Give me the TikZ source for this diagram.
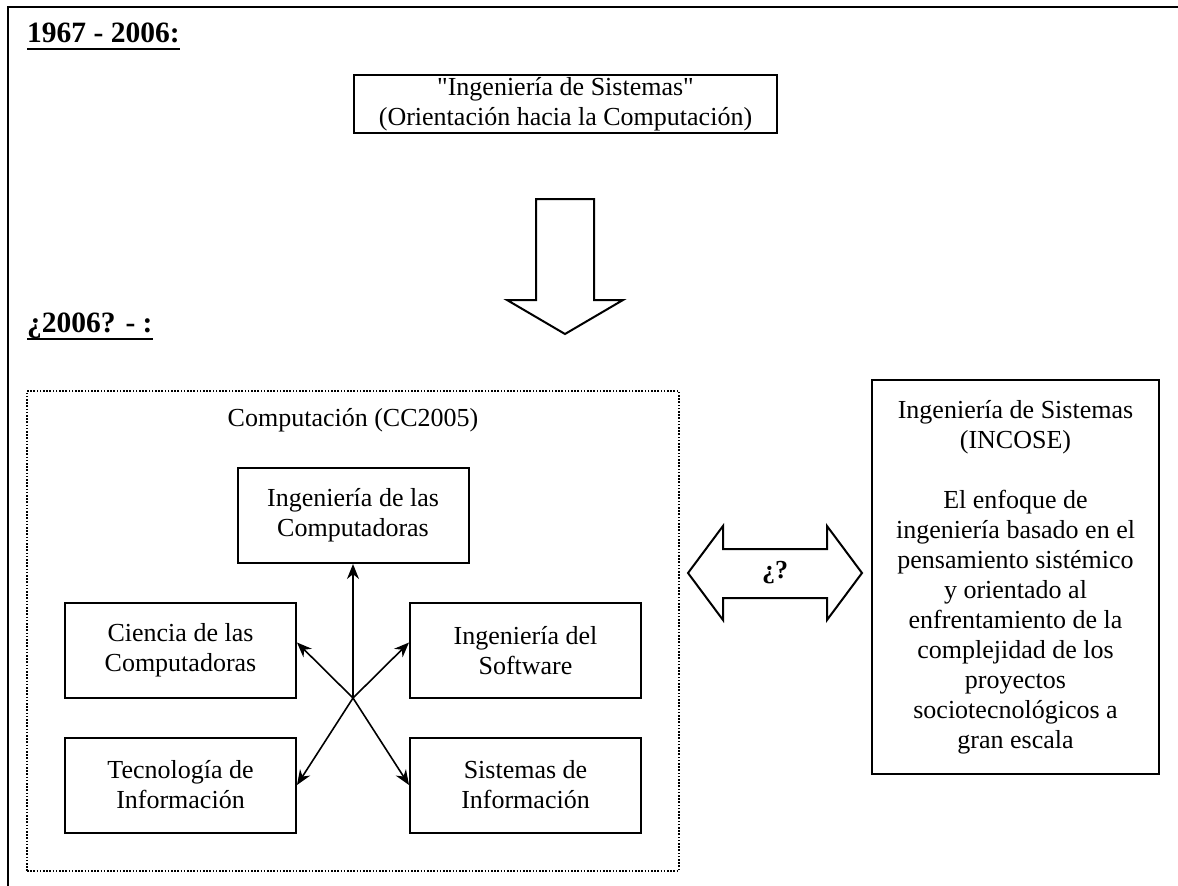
\documentclass[tikz,border=0pt]{standalone}
\usepackage{fontspec}
\setmainfont{Liberation Serif}
\usetikzlibrary{arrows.meta}
\newcommand{\ulined}[1]{\setbox0\hbox{#1}\rlap{\rule[-8pt]{\wd0}{2pt}}\box0}
\tikzstyle{block} = [align=center,draw=black,rectangle,text centered,line width=2pt,minimum width=231pt,minimum height=95pt,inner sep=0pt]
\tikzstyle{bigbox} = [block,minimum width=423pt,minimum height=58pt]
\tikzstyle{data} = [align=center,text centered,inner sep=0pt]
\tikzstyle{heading} = [anchor=base west,inner sep=0pt,font=\fontsize{29.5}{34}\selectfont\bfseries]
\tikzstyle{groupbox} = [draw=black,line width=1.6pt,dash pattern=on 1.6pt off 1.6pt,minimum width=652pt,minimum height=480pt]
\tikzstyle{bigarrow} = [draw=black,line width=2pt,fill=white,line join=miter]
\tikzstyle{link} = [-{Stealth[length=15pt,width=12pt]},line width=1.6pt]

\begin{document}
\begin{tikzpicture}[x=1pt,y=-1pt,font=\fontsize{26}{30}\selectfont]
				\useasboundingbox (0,0) rectangle (1178,886);
				\draw [line width=2pt] (1178,7) -- (7.5,7) -- (7.5,886);
				\node (old) [heading] at (27,42) {\ulined{1967 - 2006:}};
				\node (new) [heading] at (27,332) {\ulined{¿2006? - :}};
				\node (sys) [bigbox] at (565.5,104) {\textquotedbl Ingeniería de Sistemas\textquotedbl\\(Orientación hacia la Computación)};
				\draw [bigarrow] (536,199) -- (594,199) -- (594,300) -- (623,300) -- (565,334) -- (507,300) -- (536,300) -- cycle;
				\node (cc) [groupbox] at (353,631) {};
				\node (cctitle) [data] at (353,420) {Computación (CC2005)};
				\node (ic) [block] at (353,515.5) {Ingeniería de las\\Computadoras};
				\node (ccs) [block] at (180.5,650.5) {Ciencia de las\\Computadoras};
				\node (sw) [block] at (525.5,650.5) {Ingeniería del\\Software};
				\node (ti) [block] at (180.5,785) {Tecnología de\\Información};
				\node (si) [block] at (525.5,785) {Sistemas de\\Información};
				\coordinate (hub) at (353,698);
				\draw [link] (hub) -- (ic.south);
				\draw [link] (hub) -- ([yshift=8pt]ccs.east);
				\draw [link] (hub) -- ([yshift=8pt]sw.west);
				\draw [link] (hub) -- (ti.east);
				\draw [link] (hub) -- (si.west);
				\draw [bigarrow] (688,573) -- (723,526) -- (723,549) -- (827,549) -- (827,526) -- (862,573) -- (827,620) -- (827,598) -- (723,598) -- (723,620) -- cycle;
				\node (ask) [data,font=\fontsize{26}{30}\selectfont\bfseries] at (775,573) {¿?};
				\node (incose) [block,minimum width=287pt,minimum height=394pt] at (1015.5,577) {Ingeniería de Sistemas\\(INCOSE)\\[30pt]El enfoque de\\ingeniería basado en el\\pensamiento sistémico\\y orientado al\\enfrentamiento de la\\complejidad de los\\proyectos\\sociotecnológicos a\\gran escala};
			\end{tikzpicture}
\end{document}
